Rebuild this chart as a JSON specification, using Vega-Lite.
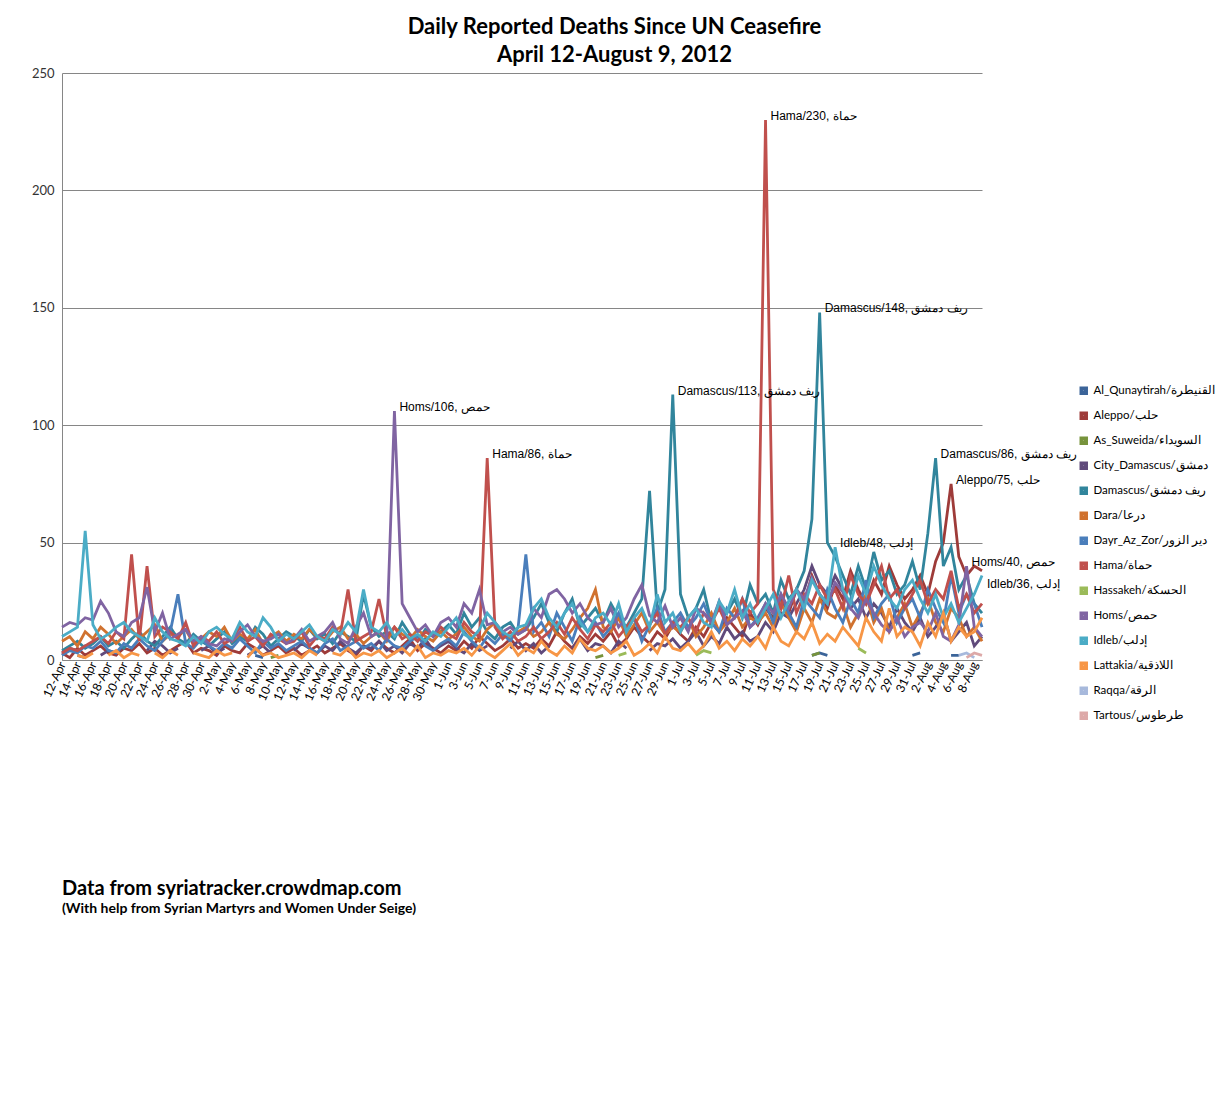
{
  "$schema": "https://vega.github.io/schema/vega-lite/v6.json",
  "width": 920,
  "height": 587,
  "autosize": {"type": "none"},
  "padding": {"left": 62, "top": 73, "right": 245, "bottom": 440},
  "background": "white",
  "config": {
    "view": {"stroke": null},
    "font": "Lato"
  },
  "title": {
    "text": "Data from syriatracker.crowdmap.com",
    "subtitle": "(With help from Syrian Martyrs and  Women Under Seige)",
    "orient": "bottom",
    "anchor": "start",
    "frame": "group",
    "offset": 153,
    "font": "Lato",
    "fontSize": 20,
    "fontWeight": "bold",
    "color": "#000000",
    "subtitleFont": "Lato",
    "subtitleFontSize": 14,
    "subtitleFontWeight": "bold",
    "subtitleColor": "#000000",
    "subtitlePadding": 3
  },
  "encoding": {
    "x": {
      "field": "d",
      "type": "temporal",
      "axis": {
        "title": null,
        "format": "%-d-%b",
        "labelAngle": -65,
        "labelFont": "Lato",
        "labelFontSize": 12,
        "labelColor": "#000000",
        "labelOverlap": false,
        "ticks": false,
        "grid": false,
        "domainColor": "#868686",
        "values": [
          {"year": 1900, "month": 4, "date": 12}, {"year": 1900, "month": 4, "date": 14}, {"year": 1900, "month": 4, "date": 16},
          {"year": 1900, "month": 4, "date": 18}, {"year": 1900, "month": 4, "date": 20}, {"year": 1900, "month": 4, "date": 22},
          {"year": 1900, "month": 4, "date": 24}, {"year": 1900, "month": 4, "date": 26}, {"year": 1900, "month": 4, "date": 28},
          {"year": 1900, "month": 4, "date": 30}, {"year": 1900, "month": 5, "date": 2}, {"year": 1900, "month": 5, "date": 4},
          {"year": 1900, "month": 5, "date": 6}, {"year": 1900, "month": 5, "date": 8}, {"year": 1900, "month": 5, "date": 10},
          {"year": 1900, "month": 5, "date": 12}, {"year": 1900, "month": 5, "date": 14}, {"year": 1900, "month": 5, "date": 16},
          {"year": 1900, "month": 5, "date": 18}, {"year": 1900, "month": 5, "date": 20}, {"year": 1900, "month": 5, "date": 22},
          {"year": 1900, "month": 5, "date": 24}, {"year": 1900, "month": 5, "date": 26}, {"year": 1900, "month": 5, "date": 28},
          {"year": 1900, "month": 5, "date": 30}, {"year": 1900, "month": 6, "date": 1}, {"year": 1900, "month": 6, "date": 3},
          {"year": 1900, "month": 6, "date": 5}, {"year": 1900, "month": 6, "date": 7}, {"year": 1900, "month": 6, "date": 9},
          {"year": 1900, "month": 6, "date": 11}, {"year": 1900, "month": 6, "date": 13}, {"year": 1900, "month": 6, "date": 15},
          {"year": 1900, "month": 6, "date": 17}, {"year": 1900, "month": 6, "date": 19}, {"year": 1900, "month": 6, "date": 21},
          {"year": 1900, "month": 6, "date": 23}, {"year": 1900, "month": 6, "date": 25}, {"year": 1900, "month": 6, "date": 27},
          {"year": 1900, "month": 6, "date": 29}, {"year": 1900, "month": 7, "date": 1}, {"year": 1900, "month": 7, "date": 3},
          {"year": 1900, "month": 7, "date": 5}, {"year": 1900, "month": 7, "date": 7}, {"year": 1900, "month": 7, "date": 9},
          {"year": 1900, "month": 7, "date": 11}, {"year": 1900, "month": 7, "date": 13}, {"year": 1900, "month": 7, "date": 15},
          {"year": 1900, "month": 7, "date": 17}, {"year": 1900, "month": 7, "date": 19}, {"year": 1900, "month": 7, "date": 21},
          {"year": 1900, "month": 7, "date": 23}, {"year": 1900, "month": 7, "date": 25}, {"year": 1900, "month": 7, "date": 27},
          {"year": 1900, "month": 7, "date": 29}, {"year": 1900, "month": 7, "date": 31}, {"year": 1900, "month": 8, "date": 2},
          {"year": 1900, "month": 8, "date": 4}, {"year": 1900, "month": 8, "date": 6}, {"year": 1900, "month": 8, "date": 8}
        ]
      }
    },
    "y": {
      "field": "v",
      "type": "quantitative",
      "scale": {"domain": [0, 250], "nice": false},
      "axis": {
        "values": [0, 50, 100, 150, 200, 250],
        "ticks": false,
        "grid": true,
        "gridColor": "#868686",
        "domainColor": "#868686",
        "labelFont": "Lato",
        "labelFontSize": 13,
        "labelColor": "#333333",
        "labelPadding": 8,
        "title": ["Daily Reported Deaths Since UN Ceasefire", "April 12-August 9, 2012"],
        "titleAngle": 0,
        "titleX": 552,
        "titleY": -57,
        "titleAlign": "center",
        "titleBaseline": "top",
        "titleFont": "Lato",
        "titleFontSize": 22,
        "titleFontWeight": "bold",
        "titleColor": "#000000",
        "titleLineHeight": 28
      }
    }
  },
  "layer": [
    {
      "data": {
        "format": {"parse": {"d": "date:'%m-%d'"}},
        "values": [
          {"d":"04-14","r":"AQ","v":2},{"d":"04-15","r":"AQ","v":1},{"d":"04-16","r":"AQ","v":null},{"d":"05-07","r":"AQ","v":2},{"d":"05-08","r":"AQ","v":1},{"d":"05-09","r":"AQ","v":null},
          {"d":"07-18","r":"AQ","v":2},{"d":"07-19","r":"AQ","v":3},{"d":"07-20","r":"AQ","v":2},{"d":"07-21","r":"AQ","v":null},{"d":"07-31","r":"AQ","v":2},{"d":"08-01","r":"AQ","v":3},
          {"d":"08-02","r":"AQ","v":null},{"d":"08-05","r":"AQ","v":2},{"d":"08-06","r":"AQ","v":2},

          {"d":"04-12","r":"AL","v":3},{"d":"04-13","r":"AL","v":1},{"d":"04-14","r":"AL","v":5},{"d":"04-15","r":"AL","v":2},{"d":"04-16","r":"AL","v":4},{"d":"04-17","r":"AL","v":6},{"d":"04-18","r":"AL","v":3},{"d":"04-19","r":"AL","v":2},{"d":"04-20","r":"AL","v":5},{"d":"04-21","r":"AL","v":4},
          {"d":"04-22","r":"AL","v":7},{"d":"04-23","r":"AL","v":3},{"d":"04-24","r":"AL","v":5},{"d":"04-25","r":"AL","v":2},{"d":"04-26","r":"AL","v":4},{"d":"04-27","r":"AL","v":6},{"d":"04-28","r":"AL","v":8},{"d":"04-29","r":"AL","v":3},{"d":"04-30","r":"AL","v":5},{"d":"05-01","r":"AL","v":4},
          {"d":"05-02","r":"AL","v":2},{"d":"05-03","r":"AL","v":6},{"d":"05-04","r":"AL","v":4},{"d":"05-05","r":"AL","v":3},{"d":"05-06","r":"AL","v":7},{"d":"05-07","r":"AL","v":5},{"d":"05-08","r":"AL","v":2},{"d":"05-09","r":"AL","v":4},{"d":"05-10","r":"AL","v":6},{"d":"05-11","r":"AL","v":3},
          {"d":"05-12","r":"AL","v":5},{"d":"05-13","r":"AL","v":2},{"d":"05-14","r":"AL","v":4},{"d":"05-15","r":"AL","v":6},{"d":"05-16","r":"AL","v":3},{"d":"05-17","r":"AL","v":5},{"d":"05-18","r":"AL","v":7},{"d":"05-19","r":"AL","v":4},{"d":"05-20","r":"AL","v":2},{"d":"05-21","r":"AL","v":6},
          {"d":"05-22","r":"AL","v":4},{"d":"05-23","r":"AL","v":8},{"d":"05-24","r":"AL","v":5},{"d":"05-25","r":"AL","v":3},{"d":"05-26","r":"AL","v":6},{"d":"05-27","r":"AL","v":9},{"d":"05-28","r":"AL","v":4},{"d":"05-29","r":"AL","v":7},{"d":"05-30","r":"AL","v":5},{"d":"05-31","r":"AL","v":3},
          {"d":"06-01","r":"AL","v":6},{"d":"06-02","r":"AL","v":4},{"d":"06-03","r":"AL","v":8},{"d":"06-04","r":"AL","v":5},{"d":"06-05","r":"AL","v":10},{"d":"06-06","r":"AL","v":7},{"d":"06-07","r":"AL","v":4},{"d":"06-08","r":"AL","v":6},{"d":"06-09","r":"AL","v":9},{"d":"06-10","r":"AL","v":5},
          {"d":"06-11","r":"AL","v":7},{"d":"06-12","r":"AL","v":5},{"d":"06-13","r":"AL","v":9},{"d":"06-14","r":"AL","v":6},{"d":"06-15","r":"AL","v":12},{"d":"06-16","r":"AL","v":8},{"d":"06-17","r":"AL","v":5},{"d":"06-18","r":"AL","v":10},{"d":"06-19","r":"AL","v":7},{"d":"06-20","r":"AL","v":11},
          {"d":"06-21","r":"AL","v":8},{"d":"06-22","r":"AL","v":12},{"d":"06-23","r":"AL","v":6},{"d":"06-24","r":"AL","v":9},{"d":"06-25","r":"AL","v":14},{"d":"06-26","r":"AL","v":10},{"d":"06-27","r":"AL","v":7},{"d":"06-28","r":"AL","v":12},{"d":"06-29","r":"AL","v":9},{"d":"06-30","r":"AL","v":15},
          {"d":"07-01","r":"AL","v":11},{"d":"07-02","r":"AL","v":8},{"d":"07-03","r":"AL","v":14},{"d":"07-04","r":"AL","v":10},{"d":"07-05","r":"AL","v":16},{"d":"07-06","r":"AL","v":12},{"d":"07-07","r":"AL","v":18},{"d":"07-08","r":"AL","v":14},{"d":"07-09","r":"AL","v":10},{"d":"07-10","r":"AL","v":20},
          {"d":"07-11","r":"AL","v":15},{"d":"07-12","r":"AL","v":22},{"d":"07-13","r":"AL","v":18},{"d":"07-14","r":"AL","v":26},{"d":"07-15","r":"AL","v":20},{"d":"07-16","r":"AL","v":30},{"d":"07-17","r":"AL","v":24},{"d":"07-18","r":"AL","v":36},{"d":"07-19","r":"AL","v":28},{"d":"07-20","r":"AL","v":22},
          {"d":"07-21","r":"AL","v":32},{"d":"07-22","r":"AL","v":26},{"d":"07-23","r":"AL","v":38},{"d":"07-24","r":"AL","v":30},{"d":"07-25","r":"AL","v":24},{"d":"07-26","r":"AL","v":34},{"d":"07-27","r":"AL","v":28},{"d":"07-28","r":"AL","v":40},{"d":"07-29","r":"AL","v":32},{"d":"07-30","r":"AL","v":26},
          {"d":"07-31","r":"AL","v":30},{"d":"08-01","r":"AL","v":36},{"d":"08-02","r":"AL","v":28},{"d":"08-03","r":"AL","v":42},{"d":"08-04","r":"AL","v":50},{"d":"08-05","r":"AL","v":75},{"d":"08-06","r":"AL","v":44},{"d":"08-07","r":"AL","v":36},{"d":"08-08","r":"AL","v":40},{"d":"08-09","r":"AL","v":38},

          {"d":"05-09","r":"AS","v":1},{"d":"05-10","r":"AS","v":2},{"d":"05-11","r":"AS","v":null},{"d":"06-20","r":"AS","v":1},{"d":"06-21","r":"AS","v":2},{"d":"06-22","r":"AS","v":null},{"d":"07-18","r":"AS","v":2},{"d":"07-19","r":"AS","v":3},

          {"d":"04-12","r":"CD","v":3},{"d":"04-13","r":"CD","v":5},{"d":"04-14","r":"CD","v":4},{"d":"04-15","r":"CD","v":null},{"d":"04-17","r":"CD","v":2},{"d":"04-18","r":"CD","v":4},{"d":"04-19","r":"CD","v":3},{"d":"04-20","r":"CD","v":6},{"d":"04-21","r":"CD","v":null},
          {"d":"04-23","r":"CD","v":4},{"d":"04-24","r":"CD","v":8},{"d":"04-25","r":"CD","v":6},{"d":"04-26","r":"CD","v":3},{"d":"04-27","r":"CD","v":5},{"d":"04-28","r":"CD","v":null},{"d":"04-30","r":"CD","v":4},{"d":"05-01","r":"CD","v":6},
          {"d":"05-02","r":"CD","v":3},{"d":"05-03","r":"CD","v":5},{"d":"05-04","r":"CD","v":null},{"d":"05-06","r":"CD","v":2},{"d":"05-07","r":"CD","v":4},{"d":"05-08","r":"CD","v":6},{"d":"05-09","r":"CD","v":3},{"d":"05-10","r":"CD","v":null},
          {"d":"05-12","r":"CD","v":4},{"d":"05-13","r":"CD","v":7},{"d":"05-14","r":"CD","v":5},{"d":"05-15","r":"CD","v":3},{"d":"05-16","r":"CD","v":6},{"d":"05-17","r":"CD","v":4},{"d":"05-18","r":"CD","v":8},{"d":"05-19","r":"CD","v":5},{"d":"05-20","r":"CD","v":3},{"d":"05-21","r":"CD","v":6},
          {"d":"05-22","r":"CD","v":5},{"d":"05-23","r":"CD","v":8},{"d":"05-24","r":"CD","v":4},{"d":"05-25","r":"CD","v":6},{"d":"05-26","r":"CD","v":3},{"d":"05-27","r":"CD","v":7},{"d":"05-28","r":"CD","v":5},{"d":"05-29","r":"CD","v":9},{"d":"05-30","r":"CD","v":4},{"d":"05-31","r":"CD","v":6},
          {"d":"06-01","r":"CD","v":8},{"d":"06-02","r":"CD","v":5},{"d":"06-03","r":"CD","v":3},{"d":"06-04","r":"CD","v":7},{"d":"06-05","r":"CD","v":4},{"d":"06-06","r":"CD","v":6},{"d":"06-07","r":"CD","v":null},{"d":"06-09","r":"CD","v":5},{"d":"06-10","r":"CD","v":8},
          {"d":"06-11","r":"CD","v":4},{"d":"06-12","r":"CD","v":7},{"d":"06-13","r":"CD","v":3},{"d":"06-14","r":"CD","v":6},{"d":"06-15","r":"CD","v":null},{"d":"06-17","r":"CD","v":5},{"d":"06-18","r":"CD","v":9},{"d":"06-19","r":"CD","v":4},{"d":"06-20","r":"CD","v":7},
          {"d":"06-21","r":"CD","v":6},{"d":"06-22","r":"CD","v":3},{"d":"06-23","r":"CD","v":8},{"d":"06-24","r":"CD","v":5},{"d":"06-25","r":"CD","v":null},{"d":"06-27","r":"CD","v":4},{"d":"06-28","r":"CD","v":7},{"d":"06-29","r":"CD","v":6},{"d":"06-30","r":"CD","v":9},
          {"d":"07-01","r":"CD","v":5},{"d":"07-02","r":"CD","v":8},{"d":"07-03","r":"CD","v":12},{"d":"07-04","r":"CD","v":6},{"d":"07-05","r":"CD","v":10},{"d":"07-06","r":"CD","v":7},{"d":"07-07","r":"CD","v":14},{"d":"07-08","r":"CD","v":9},{"d":"07-09","r":"CD","v":12},{"d":"07-10","r":"CD","v":8},
          {"d":"07-11","r":"CD","v":10},{"d":"07-12","r":"CD","v":16},{"d":"07-13","r":"CD","v":12},{"d":"07-14","r":"CD","v":20},{"d":"07-15","r":"CD","v":18},{"d":"07-16","r":"CD","v":24},{"d":"07-17","r":"CD","v":30},{"d":"07-18","r":"CD","v":40},{"d":"07-19","r":"CD","v":32},{"d":"07-20","r":"CD","v":28},
          {"d":"07-21","r":"CD","v":36},{"d":"07-22","r":"CD","v":30},{"d":"07-23","r":"CD","v":22},{"d":"07-24","r":"CD","v":26},{"d":"07-25","r":"CD","v":18},{"d":"07-26","r":"CD","v":24},{"d":"07-27","r":"CD","v":20},{"d":"07-28","r":"CD","v":14},{"d":"07-29","r":"CD","v":22},{"d":"07-30","r":"CD","v":16},
          {"d":"07-31","r":"CD","v":12},{"d":"08-01","r":"CD","v":18},{"d":"08-02","r":"CD","v":10},{"d":"08-03","r":"CD","v":14},{"d":"08-04","r":"CD","v":20},{"d":"08-05","r":"CD","v":8},{"d":"08-06","r":"CD","v":12},{"d":"08-07","r":"CD","v":16},{"d":"08-08","r":"CD","v":6},{"d":"08-09","r":"CD","v":10},

          {"d":"04-12","r":"DA","v":4},{"d":"04-13","r":"DA","v":6},{"d":"04-14","r":"DA","v":8},{"d":"04-15","r":"DA","v":5},{"d":"04-16","r":"DA","v":7},{"d":"04-17","r":"DA","v":10},{"d":"04-18","r":"DA","v":6},{"d":"04-19","r":"DA","v":8},{"d":"04-20","r":"DA","v":5},{"d":"04-21","r":"DA","v":9},
          {"d":"04-22","r":"DA","v":12},{"d":"04-23","r":"DA","v":8},{"d":"04-24","r":"DA","v":6},{"d":"04-25","r":"DA","v":10},{"d":"04-26","r":"DA","v":14},{"d":"04-27","r":"DA","v":9},{"d":"04-28","r":"DA","v":7},{"d":"04-29","r":"DA","v":11},{"d":"04-30","r":"DA","v":8},{"d":"05-01","r":"DA","v":6},
          {"d":"05-02","r":"DA","v":9},{"d":"05-03","r":"DA","v":12},{"d":"05-04","r":"DA","v":7},{"d":"05-05","r":"DA","v":10},{"d":"05-06","r":"DA","v":8},{"d":"05-07","r":"DA","v":14},{"d":"05-08","r":"DA","v":11},{"d":"05-09","r":"DA","v":6},{"d":"05-10","r":"DA","v":9},{"d":"05-11","r":"DA","v":12},
          {"d":"05-12","r":"DA","v":10},{"d":"05-13","r":"DA","v":8},{"d":"05-14","r":"DA","v":13},{"d":"05-15","r":"DA","v":9},{"d":"05-16","r":"DA","v":11},{"d":"05-17","r":"DA","v":7},{"d":"05-18","r":"DA","v":12},{"d":"05-19","r":"DA","v":10},{"d":"05-20","r":"DA","v":8},{"d":"05-21","r":"DA","v":28},
          {"d":"05-22","r":"DA","v":14},{"d":"05-23","r":"DA","v":10},{"d":"05-24","r":"DA","v":12},{"d":"05-25","r":"DA","v":9},{"d":"05-26","r":"DA","v":16},{"d":"05-27","r":"DA","v":11},{"d":"05-28","r":"DA","v":8},{"d":"05-29","r":"DA","v":13},{"d":"05-30","r":"DA","v":10},{"d":"05-31","r":"DA","v":12},
          {"d":"06-01","r":"DA","v":15},{"d":"06-02","r":"DA","v":11},{"d":"06-03","r":"DA","v":20},{"d":"06-04","r":"DA","v":14},{"d":"06-05","r":"DA","v":18},{"d":"06-06","r":"DA","v":12},{"d":"06-07","r":"DA","v":9},{"d":"06-08","r":"DA","v":14},{"d":"06-09","r":"DA","v":16},{"d":"06-10","r":"DA","v":11},
          {"d":"06-11","r":"DA","v":13},{"d":"06-12","r":"DA","v":18},{"d":"06-13","r":"DA","v":24},{"d":"06-14","r":"DA","v":16},{"d":"06-15","r":"DA","v":12},{"d":"06-16","r":"DA","v":20},{"d":"06-17","r":"DA","v":26},{"d":"06-18","r":"DA","v":14},{"d":"06-19","r":"DA","v":18},{"d":"06-20","r":"DA","v":22},
          {"d":"06-21","r":"DA","v":16},{"d":"06-22","r":"DA","v":24},{"d":"06-23","r":"DA","v":18},{"d":"06-24","r":"DA","v":14},{"d":"06-25","r":"DA","v":20},{"d":"06-26","r":"DA","v":26},{"d":"06-27","r":"DA","v":72},{"d":"06-28","r":"DA","v":20},{"d":"06-29","r":"DA","v":30},{"d":"06-30","r":"DA","v":113},
          {"d":"07-01","r":"DA","v":28},{"d":"07-02","r":"DA","v":18},{"d":"07-03","r":"DA","v":22},{"d":"07-04","r":"DA","v":30},{"d":"07-05","r":"DA","v":16},{"d":"07-06","r":"DA","v":24},{"d":"07-07","r":"DA","v":20},{"d":"07-08","r":"DA","v":26},{"d":"07-09","r":"DA","v":18},{"d":"07-10","r":"DA","v":32},
          {"d":"07-11","r":"DA","v":24},{"d":"07-12","r":"DA","v":28},{"d":"07-13","r":"DA","v":20},{"d":"07-14","r":"DA","v":34},{"d":"07-15","r":"DA","v":26},{"d":"07-16","r":"DA","v":30},{"d":"07-17","r":"DA","v":38},{"d":"07-18","r":"DA","v":60},{"d":"07-19","r":"DA","v":148},{"d":"07-20","r":"DA","v":50},
          {"d":"07-21","r":"DA","v":44},{"d":"07-22","r":"DA","v":36},{"d":"07-23","r":"DA","v":28},{"d":"07-24","r":"DA","v":40},{"d":"07-25","r":"DA","v":30},{"d":"07-26","r":"DA","v":46},{"d":"07-27","r":"DA","v":34},{"d":"07-28","r":"DA","v":38},{"d":"07-29","r":"DA","v":28},{"d":"07-30","r":"DA","v":32},
          {"d":"07-31","r":"DA","v":42},{"d":"08-01","r":"DA","v":30},{"d":"08-02","r":"DA","v":54},{"d":"08-03","r":"DA","v":86},{"d":"08-04","r":"DA","v":40},{"d":"08-05","r":"DA","v":48},{"d":"08-06","r":"DA","v":30},{"d":"08-07","r":"DA","v":36},{"d":"08-08","r":"DA","v":24},{"d":"08-09","r":"DA","v":20},

          {"d":"04-12","r":"DR","v":8},{"d":"04-13","r":"DR","v":10},{"d":"04-14","r":"DR","v":6},{"d":"04-15","r":"DR","v":12},{"d":"04-16","r":"DR","v":9},{"d":"04-17","r":"DR","v":14},{"d":"04-18","r":"DR","v":11},{"d":"04-19","r":"DR","v":7},{"d":"04-20","r":"DR","v":10},{"d":"04-21","r":"DR","v":13},
          {"d":"04-22","r":"DR","v":9},{"d":"04-23","r":"DR","v":12},{"d":"04-24","r":"DR","v":15},{"d":"04-25","r":"DR","v":8},{"d":"04-26","r":"DR","v":11},{"d":"04-27","r":"DR","v":10},{"d":"04-28","r":"DR","v":13},{"d":"04-29","r":"DR","v":7},{"d":"04-30","r":"DR","v":9},{"d":"05-01","r":"DR","v":12},
          {"d":"05-02","r":"DR","v":10},{"d":"05-03","r":"DR","v":14},{"d":"05-04","r":"DR","v":8},{"d":"05-05","r":"DR","v":11},{"d":"05-06","r":"DR","v":9},{"d":"05-07","r":"DR","v":13},{"d":"05-08","r":"DR","v":7},{"d":"05-09","r":"DR","v":10},{"d":"05-10","r":"DR","v":12},{"d":"05-11","r":"DR","v":8},
          {"d":"05-12","r":"DR","v":11},{"d":"05-13","r":"DR","v":9},{"d":"05-14","r":"DR","v":13},{"d":"05-15","r":"DR","v":10},{"d":"05-16","r":"DR","v":8},{"d":"05-17","r":"DR","v":12},{"d":"05-18","r":"DR","v":14},{"d":"05-19","r":"DR","v":9},{"d":"05-20","r":"DR","v":11},{"d":"05-21","r":"DR","v":7},
          {"d":"05-22","r":"DR","v":10},{"d":"05-23","r":"DR","v":12},{"d":"05-24","r":"DR","v":8},{"d":"05-25","r":"DR","v":14},{"d":"05-26","r":"DR","v":11},{"d":"05-27","r":"DR","v":9},{"d":"05-28","r":"DR","v":13},{"d":"05-29","r":"DR","v":10},{"d":"05-30","r":"DR","v":8},{"d":"05-31","r":"DR","v":12},
          {"d":"06-01","r":"DR","v":9},{"d":"06-02","r":"DR","v":11},{"d":"06-03","r":"DR","v":14},{"d":"06-04","r":"DR","v":10},{"d":"06-05","r":"DR","v":8},{"d":"06-06","r":"DR","v":13},{"d":"06-07","r":"DR","v":16},{"d":"06-08","r":"DR","v":11},{"d":"06-09","r":"DR","v":9},{"d":"06-10","r":"DR","v":12},
          {"d":"06-11","r":"DR","v":14},{"d":"06-12","r":"DR","v":10},{"d":"06-13","r":"DR","v":12},{"d":"06-14","r":"DR","v":16},{"d":"06-15","r":"DR","v":11},{"d":"06-16","r":"DR","v":9},{"d":"06-17","r":"DR","v":13},{"d":"06-18","r":"DR","v":18},{"d":"06-19","r":"DR","v":22},{"d":"06-20","r":"DR","v":30},
          {"d":"06-21","r":"DR","v":14},{"d":"06-22","r":"DR","v":12},{"d":"06-23","r":"DR","v":18},{"d":"06-24","r":"DR","v":10},{"d":"06-25","r":"DR","v":15},{"d":"06-26","r":"DR","v":20},{"d":"06-27","r":"DR","v":12},{"d":"06-28","r":"DR","v":16},{"d":"06-29","r":"DR","v":11},{"d":"06-30","r":"DR","v":14},
          {"d":"07-01","r":"DR","v":12},{"d":"07-02","r":"DR","v":18},{"d":"07-03","r":"DR","v":10},{"d":"07-04","r":"DR","v":14},{"d":"07-05","r":"DR","v":20},{"d":"07-06","r":"DR","v":12},{"d":"07-07","r":"DR","v":16},{"d":"07-08","r":"DR","v":22},{"d":"07-09","r":"DR","v":14},{"d":"07-10","r":"DR","v":18},
          {"d":"07-11","r":"DR","v":16},{"d":"07-12","r":"DR","v":20},{"d":"07-13","r":"DR","v":14},{"d":"07-14","r":"DR","v":24},{"d":"07-15","r":"DR","v":18},{"d":"07-16","r":"DR","v":12},{"d":"07-17","r":"DR","v":22},{"d":"07-18","r":"DR","v":16},{"d":"07-19","r":"DR","v":26},{"d":"07-20","r":"DR","v":20},
          {"d":"07-21","r":"DR","v":18},{"d":"07-22","r":"DR","v":24},{"d":"07-23","r":"DR","v":14},{"d":"07-24","r":"DR","v":20},{"d":"07-25","r":"DR","v":28},{"d":"07-26","r":"DR","v":16},{"d":"07-27","r":"DR","v":22},{"d":"07-28","r":"DR","v":12},{"d":"07-29","r":"DR","v":18},{"d":"07-30","r":"DR","v":24},
          {"d":"07-31","r":"DR","v":14},{"d":"08-01","r":"DR","v":20},{"d":"08-02","r":"DR","v":26},{"d":"08-03","r":"DR","v":16},{"d":"08-04","r":"DR","v":12},{"d":"08-05","r":"DR","v":22},{"d":"08-06","r":"DR","v":18},{"d":"08-07","r":"DR","v":10},{"d":"08-08","r":"DR","v":14},{"d":"08-09","r":"DR","v":8},

          {"d":"04-12","r":"DZ","v":2},{"d":"04-13","r":"DZ","v":4},{"d":"04-14","r":"DZ","v":3},{"d":"04-15","r":"DZ","v":6},{"d":"04-16","r":"DZ","v":5},{"d":"04-17","r":"DZ","v":8},{"d":"04-18","r":"DZ","v":4},{"d":"04-19","r":"DZ","v":3},{"d":"04-20","r":"DZ","v":7},{"d":"04-21","r":"DZ","v":5},
          {"d":"04-22","r":"DZ","v":9},{"d":"04-23","r":"DZ","v":6},{"d":"04-24","r":"DZ","v":4},{"d":"04-25","r":"DZ","v":8},{"d":"04-26","r":"DZ","v":12},{"d":"04-27","r":"DZ","v":28},{"d":"04-28","r":"DZ","v":7},{"d":"04-29","r":"DZ","v":5},{"d":"04-30","r":"DZ","v":9},{"d":"05-01","r":"DZ","v":6},
          {"d":"05-02","r":"DZ","v":4},{"d":"05-03","r":"DZ","v":7},{"d":"05-04","r":"DZ","v":5},{"d":"05-05","r":"DZ","v":9},{"d":"05-06","r":"DZ","v":6},{"d":"05-07","r":"DZ","v":3},{"d":"05-08","r":"DZ","v":8},{"d":"05-09","r":"DZ","v":5},{"d":"05-10","r":"DZ","v":7},{"d":"05-11","r":"DZ","v":4},
          {"d":"05-12","r":"DZ","v":6},{"d":"05-13","r":"DZ","v":8},{"d":"05-14","r":"DZ","v":5},{"d":"05-15","r":"DZ","v":3},{"d":"05-16","r":"DZ","v":7},{"d":"05-17","r":"DZ","v":9},{"d":"05-18","r":"DZ","v":4},{"d":"05-19","r":"DZ","v":6},{"d":"05-20","r":"DZ","v":8},{"d":"05-21","r":"DZ","v":5},
          {"d":"05-22","r":"DZ","v":7},{"d":"05-23","r":"DZ","v":4},{"d":"05-24","r":"DZ","v":9},{"d":"05-25","r":"DZ","v":6},{"d":"05-26","r":"DZ","v":5},{"d":"05-27","r":"DZ","v":8},{"d":"05-28","r":"DZ","v":10},{"d":"05-29","r":"DZ","v":6},{"d":"05-30","r":"DZ","v":4},{"d":"05-31","r":"DZ","v":7},
          {"d":"06-01","r":"DZ","v":9},{"d":"06-02","r":"DZ","v":6},{"d":"06-03","r":"DZ","v":12},{"d":"06-04","r":"DZ","v":8},{"d":"06-05","r":"DZ","v":5},{"d":"06-06","r":"DZ","v":10},{"d":"06-07","r":"DZ","v":7},{"d":"06-08","r":"DZ","v":11},{"d":"06-09","r":"DZ","v":8},{"d":"06-10","r":"DZ","v":14},
          {"d":"06-11","r":"DZ","v":45},{"d":"06-12","r":"DZ","v":12},{"d":"06-13","r":"DZ","v":16},{"d":"06-14","r":"DZ","v":10},{"d":"06-15","r":"DZ","v":20},{"d":"06-16","r":"DZ","v":14},{"d":"06-17","r":"DZ","v":8},{"d":"06-18","r":"DZ","v":18},{"d":"06-19","r":"DZ","v":12},{"d":"06-20","r":"DZ","v":16},
          {"d":"06-21","r":"DZ","v":10},{"d":"06-22","r":"DZ","v":14},{"d":"06-23","r":"DZ","v":20},{"d":"06-24","r":"DZ","v":12},{"d":"06-25","r":"DZ","v":18},{"d":"06-26","r":"DZ","v":8},{"d":"06-27","r":"DZ","v":15},{"d":"06-28","r":"DZ","v":22},{"d":"06-29","r":"DZ","v":12},{"d":"06-30","r":"DZ","v":16},
          {"d":"07-01","r":"DZ","v":20},{"d":"07-02","r":"DZ","v":14},{"d":"07-03","r":"DZ","v":18},{"d":"07-04","r":"DZ","v":24},{"d":"07-05","r":"DZ","v":16},{"d":"07-06","r":"DZ","v":12},{"d":"07-07","r":"DZ","v":22},{"d":"07-08","r":"DZ","v":18},{"d":"07-09","r":"DZ","v":26},{"d":"07-10","r":"DZ","v":14},
          {"d":"07-11","r":"DZ","v":18},{"d":"07-12","r":"DZ","v":24},{"d":"07-13","r":"DZ","v":16},{"d":"07-14","r":"DZ","v":28},{"d":"07-15","r":"DZ","v":20},{"d":"07-16","r":"DZ","v":14},{"d":"07-17","r":"DZ","v":26},{"d":"07-18","r":"DZ","v":22},{"d":"07-19","r":"DZ","v":18},{"d":"07-20","r":"DZ","v":30},
          {"d":"07-21","r":"DZ","v":22},{"d":"07-22","r":"DZ","v":16},{"d":"07-23","r":"DZ","v":26},{"d":"07-24","r":"DZ","v":20},{"d":"07-25","r":"DZ","v":34},{"d":"07-26","r":"DZ","v":18},{"d":"07-27","r":"DZ","v":24},{"d":"07-28","r":"DZ","v":28},{"d":"07-29","r":"DZ","v":16},{"d":"07-30","r":"DZ","v":22},
          {"d":"07-31","r":"DZ","v":26},{"d":"08-01","r":"DZ","v":18},{"d":"08-02","r":"DZ","v":30},{"d":"08-03","r":"DZ","v":22},{"d":"08-04","r":"DZ","v":16},{"d":"08-05","r":"DZ","v":36},{"d":"08-06","r":"DZ","v":20},{"d":"08-07","r":"DZ","v":28},{"d":"08-08","r":"DZ","v":24},{"d":"08-09","r":"DZ","v":14},

          {"d":"04-12","r":"HA","v":3},{"d":"04-13","r":"HA","v":5},{"d":"04-14","r":"HA","v":4},{"d":"04-15","r":"HA","v":6},{"d":"04-16","r":"HA","v":8},{"d":"04-17","r":"HA","v":10},{"d":"04-18","r":"HA","v":7},{"d":"04-19","r":"HA","v":12},{"d":"04-20","r":"HA","v":9},{"d":"04-21","r":"HA","v":45},
          {"d":"04-22","r":"HA","v":8},{"d":"04-23","r":"HA","v":40},{"d":"04-24","r":"HA","v":10},{"d":"04-25","r":"HA","v":14},{"d":"04-26","r":"HA","v":12},{"d":"04-27","r":"HA","v":9},{"d":"04-28","r":"HA","v":16},{"d":"04-29","r":"HA","v":6},{"d":"04-30","r":"HA","v":10},{"d":"05-01","r":"HA","v":8},
          {"d":"05-02","r":"HA","v":12},{"d":"05-03","r":"HA","v":7},{"d":"05-04","r":"HA","v":9},{"d":"05-05","r":"HA","v":14},{"d":"05-06","r":"HA","v":8},{"d":"05-07","r":"HA","v":10},{"d":"05-08","r":"HA","v":6},{"d":"05-09","r":"HA","v":11},{"d":"05-10","r":"HA","v":9},{"d":"05-11","r":"HA","v":7},
          {"d":"05-12","r":"HA","v":8},{"d":"05-13","r":"HA","v":12},{"d":"05-14","r":"HA","v":6},{"d":"05-15","r":"HA","v":10},{"d":"05-16","r":"HA","v":9},{"d":"05-17","r":"HA","v":14},{"d":"05-18","r":"HA","v":11},{"d":"05-19","r":"HA","v":30},{"d":"05-20","r":"HA","v":8},{"d":"05-21","r":"HA","v":10},
          {"d":"05-22","r":"HA","v":12},{"d":"05-23","r":"HA","v":26},{"d":"05-24","r":"HA","v":10},{"d":"05-25","r":"HA","v":14},{"d":"05-26","r":"HA","v":9},{"d":"05-27","r":"HA","v":11},{"d":"05-28","r":"HA","v":8},{"d":"05-29","r":"HA","v":12},{"d":"05-30","r":"HA","v":10},{"d":"05-31","r":"HA","v":14},
          {"d":"06-01","r":"HA","v":11},{"d":"06-02","r":"HA","v":9},{"d":"06-03","r":"HA","v":16},{"d":"06-04","r":"HA","v":12},{"d":"06-05","r":"HA","v":10},{"d":"06-06","r":"HA","v":86},{"d":"06-07","r":"HA","v":14},{"d":"06-08","r":"HA","v":9},{"d":"06-09","r":"HA","v":12},{"d":"06-10","r":"HA","v":8},
          {"d":"06-11","r":"HA","v":10},{"d":"06-12","r":"HA","v":14},{"d":"06-13","r":"HA","v":9},{"d":"06-14","r":"HA","v":12},{"d":"06-15","r":"HA","v":16},{"d":"06-16","r":"HA","v":11},{"d":"06-17","r":"HA","v":18},{"d":"06-18","r":"HA","v":13},{"d":"06-19","r":"HA","v":9},{"d":"06-20","r":"HA","v":15},
          {"d":"06-21","r":"HA","v":12},{"d":"06-22","r":"HA","v":16},{"d":"06-23","r":"HA","v":10},{"d":"06-24","r":"HA","v":14},{"d":"06-25","r":"HA","v":18},{"d":"06-26","r":"HA","v":12},{"d":"06-27","r":"HA","v":15},{"d":"06-28","r":"HA","v":20},{"d":"06-29","r":"HA","v":11},{"d":"06-30","r":"HA","v":16},
          {"d":"07-01","r":"HA","v":14},{"d":"07-02","r":"HA","v":18},{"d":"07-03","r":"HA","v":12},{"d":"07-04","r":"HA","v":20},{"d":"07-05","r":"HA","v":16},{"d":"07-06","r":"HA","v":22},{"d":"07-07","r":"HA","v":15},{"d":"07-08","r":"HA","v":18},{"d":"07-09","r":"HA","v":26},{"d":"07-10","r":"HA","v":20},
          {"d":"07-11","r":"HA","v":24},{"d":"07-12","r":"HA","v":230},{"d":"07-13","r":"HA","v":30},{"d":"07-14","r":"HA","v":22},{"d":"07-15","r":"HA","v":36},{"d":"07-16","r":"HA","v":20},{"d":"07-17","r":"HA","v":28},{"d":"07-18","r":"HA","v":24},{"d":"07-19","r":"HA","v":32},{"d":"07-20","r":"HA","v":26},
          {"d":"07-21","r":"HA","v":30},{"d":"07-22","r":"HA","v":22},{"d":"07-23","r":"HA","v":36},{"d":"07-24","r":"HA","v":28},{"d":"07-25","r":"HA","v":24},{"d":"07-26","r":"HA","v":32},{"d":"07-27","r":"HA","v":40},{"d":"07-28","r":"HA","v":26},{"d":"07-29","r":"HA","v":30},{"d":"07-30","r":"HA","v":22},
          {"d":"07-31","r":"HA","v":28},{"d":"08-01","r":"HA","v":34},{"d":"08-02","r":"HA","v":24},{"d":"08-03","r":"HA","v":30},{"d":"08-04","r":"HA","v":26},{"d":"08-05","r":"HA","v":38},{"d":"08-06","r":"HA","v":22},{"d":"08-07","r":"HA","v":28},{"d":"08-08","r":"HA","v":20},{"d":"08-09","r":"HA","v":24},

          {"d":"06-23","r":"HS","v":2},{"d":"06-24","r":"HS","v":3},{"d":"06-25","r":"HS","v":null},{"d":"07-03","r":"HS","v":2},{"d":"07-04","r":"HS","v":4},{"d":"07-05","r":"HS","v":3},{"d":"07-06","r":"HS","v":null},{"d":"07-24","r":"HS","v":5},{"d":"07-25","r":"HS","v":3},

          {"d":"04-12","r":"HO","v":14},{"d":"04-13","r":"HO","v":16},{"d":"04-14","r":"HO","v":15},{"d":"04-15","r":"HO","v":18},{"d":"04-16","r":"HO","v":17},{"d":"04-17","r":"HO","v":25},{"d":"04-18","r":"HO","v":20},{"d":"04-19","r":"HO","v":12},{"d":"04-20","r":"HO","v":10},{"d":"04-21","r":"HO","v":16},
          {"d":"04-22","r":"HO","v":18},{"d":"04-23","r":"HO","v":31},{"d":"04-24","r":"HO","v":12},{"d":"04-25","r":"HO","v":20},{"d":"04-26","r":"HO","v":9},{"d":"04-27","r":"HO","v":11},{"d":"04-28","r":"HO","v":13},{"d":"04-29","r":"HO","v":8},{"d":"04-30","r":"HO","v":10},{"d":"05-01","r":"HO","v":7},
          {"d":"05-02","r":"HO","v":6},{"d":"05-03","r":"HO","v":9},{"d":"05-04","r":"HO","v":8},{"d":"05-05","r":"HO","v":12},{"d":"05-06","r":"HO","v":15},{"d":"05-07","r":"HO","v":10},{"d":"05-08","r":"HO","v":8},{"d":"05-09","r":"HO","v":9},{"d":"05-10","r":"HO","v":11},{"d":"05-11","r":"HO","v":7},
          {"d":"05-12","r":"HO","v":9},{"d":"05-13","r":"HO","v":13},{"d":"05-14","r":"HO","v":8},{"d":"05-15","r":"HO","v":10},{"d":"05-16","r":"HO","v":12},{"d":"05-17","r":"HO","v":16},{"d":"05-18","r":"HO","v":9},{"d":"05-19","r":"HO","v":7},{"d":"05-20","r":"HO","v":14},{"d":"05-21","r":"HO","v":20},
          {"d":"05-22","r":"HO","v":10},{"d":"05-23","r":"HO","v":12},{"d":"05-24","r":"HO","v":9},{"d":"05-25","r":"HO","v":106},{"d":"05-26","r":"HO","v":24},{"d":"05-27","r":"HO","v":18},{"d":"05-28","r":"HO","v":12},{"d":"05-29","r":"HO","v":15},{"d":"05-30","r":"HO","v":10},{"d":"05-31","r":"HO","v":16},
          {"d":"06-01","r":"HO","v":18},{"d":"06-02","r":"HO","v":14},{"d":"06-03","r":"HO","v":24},{"d":"06-04","r":"HO","v":20},{"d":"06-05","r":"HO","v":30},{"d":"06-06","r":"HO","v":15},{"d":"06-07","r":"HO","v":16},{"d":"06-08","r":"HO","v":12},{"d":"06-09","r":"HO","v":14},{"d":"06-10","r":"HO","v":11},
          {"d":"06-11","r":"HO","v":13},{"d":"06-12","r":"HO","v":22},{"d":"06-13","r":"HO","v":18},{"d":"06-14","r":"HO","v":28},{"d":"06-15","r":"HO","v":30},{"d":"06-16","r":"HO","v":26},{"d":"06-17","r":"HO","v":20},{"d":"06-18","r":"HO","v":24},{"d":"06-19","r":"HO","v":18},{"d":"06-20","r":"HO","v":15},
          {"d":"06-21","r":"HO","v":16},{"d":"06-22","r":"HO","v":22},{"d":"06-23","r":"HO","v":14},{"d":"06-24","r":"HO","v":18},{"d":"06-25","r":"HO","v":26},{"d":"06-26","r":"HO","v":32},{"d":"06-27","r":"HO","v":19},{"d":"06-28","r":"HO","v":16},{"d":"06-29","r":"HO","v":23},{"d":"06-30","r":"HO","v":14},
          {"d":"07-01","r":"HO","v":18},{"d":"07-02","r":"HO","v":12},{"d":"07-03","r":"HO","v":22},{"d":"07-04","r":"HO","v":20},{"d":"07-05","r":"HO","v":16},{"d":"07-06","r":"HO","v":25},{"d":"07-07","r":"HO","v":15},{"d":"07-08","r":"HO","v":18},{"d":"07-09","r":"HO","v":21},{"d":"07-10","r":"HO","v":14},
          {"d":"07-11","r":"HO","v":17},{"d":"07-12","r":"HO","v":24},{"d":"07-13","r":"HO","v":20},{"d":"07-14","r":"HO","v":28},{"d":"07-15","r":"HO","v":22},{"d":"07-16","r":"HO","v":30},{"d":"07-17","r":"HO","v":26},{"d":"07-18","r":"HO","v":35},{"d":"07-19","r":"HO","v":28},{"d":"07-20","r":"HO","v":24},
          {"d":"07-21","r":"HO","v":33},{"d":"07-22","r":"HO","v":29},{"d":"07-23","r":"HO","v":22},{"d":"07-24","r":"HO","v":18},{"d":"07-25","r":"HO","v":26},{"d":"07-26","r":"HO","v":20},{"d":"07-27","r":"HO","v":15},{"d":"07-28","r":"HO","v":12},{"d":"07-29","r":"HO","v":18},{"d":"07-30","r":"HO","v":10},
          {"d":"07-31","r":"HO","v":14},{"d":"08-01","r":"HO","v":16},{"d":"08-02","r":"HO","v":12},{"d":"08-03","r":"HO","v":20},{"d":"08-04","r":"HO","v":10},{"d":"08-05","r":"HO","v":8},{"d":"08-06","r":"HO","v":15},{"d":"08-07","r":"HO","v":40},{"d":"08-08","r":"HO","v":14},{"d":"08-09","r":"HO","v":10},

          {"d":"04-12","r":"ID","v":10},{"d":"04-13","r":"ID","v":12},{"d":"04-14","r":"ID","v":14},{"d":"04-15","r":"ID","v":55},{"d":"04-16","r":"ID","v":15},{"d":"04-17","r":"ID","v":9},{"d":"04-18","r":"ID","v":11},{"d":"04-19","r":"ID","v":14},{"d":"04-20","r":"ID","v":16},{"d":"04-21","r":"ID","v":12},
          {"d":"04-22","r":"ID","v":10},{"d":"04-23","r":"ID","v":8},{"d":"04-24","r":"ID","v":18},{"d":"04-25","r":"ID","v":12},{"d":"04-26","r":"ID","v":9},{"d":"04-27","r":"ID","v":8},{"d":"04-28","r":"ID","v":6},{"d":"04-29","r":"ID","v":10},{"d":"04-30","r":"ID","v":7},{"d":"05-01","r":"ID","v":12},
          {"d":"05-02","r":"ID","v":14},{"d":"05-03","r":"ID","v":11},{"d":"05-04","r":"ID","v":9},{"d":"05-05","r":"ID","v":16},{"d":"05-06","r":"ID","v":12},{"d":"05-07","r":"ID","v":10},{"d":"05-08","r":"ID","v":18},{"d":"05-09","r":"ID","v":14},{"d":"05-10","r":"ID","v":8},{"d":"05-11","r":"ID","v":11},
          {"d":"05-12","r":"ID","v":9},{"d":"05-13","r":"ID","v":12},{"d":"05-14","r":"ID","v":15},{"d":"05-15","r":"ID","v":10},{"d":"05-16","r":"ID","v":8},{"d":"05-17","r":"ID","v":13},{"d":"05-18","r":"ID","v":11},{"d":"05-19","r":"ID","v":16},{"d":"05-20","r":"ID","v":12},{"d":"05-21","r":"ID","v":30},
          {"d":"05-22","r":"ID","v":14},{"d":"05-23","r":"ID","v":12},{"d":"05-24","r":"ID","v":16},{"d":"05-25","r":"ID","v":10},{"d":"05-26","r":"ID","v":13},{"d":"05-27","r":"ID","v":9},{"d":"05-28","r":"ID","v":11},{"d":"05-29","r":"ID","v":8},{"d":"05-30","r":"ID","v":12},{"d":"05-31","r":"ID","v":10},
          {"d":"06-01","r":"ID","v":14},{"d":"06-02","r":"ID","v":18},{"d":"06-03","r":"ID","v":11},{"d":"06-04","r":"ID","v":9},{"d":"06-05","r":"ID","v":13},{"d":"06-06","r":"ID","v":20},{"d":"06-07","r":"ID","v":16},{"d":"06-08","r":"ID","v":12},{"d":"06-09","r":"ID","v":10},{"d":"06-10","r":"ID","v":14},
          {"d":"06-11","r":"ID","v":15},{"d":"06-12","r":"ID","v":22},{"d":"06-13","r":"ID","v":26},{"d":"06-14","r":"ID","v":18},{"d":"06-15","r":"ID","v":14},{"d":"06-16","r":"ID","v":20},{"d":"06-17","r":"ID","v":24},{"d":"06-18","r":"ID","v":16},{"d":"06-19","r":"ID","v":12},{"d":"06-20","r":"ID","v":18},
          {"d":"06-21","r":"ID","v":20},{"d":"06-22","r":"ID","v":15},{"d":"06-23","r":"ID","v":24},{"d":"06-24","r":"ID","v":12},{"d":"06-25","r":"ID","v":18},{"d":"06-26","r":"ID","v":22},{"d":"06-27","r":"ID","v":14},{"d":"06-28","r":"ID","v":28},{"d":"06-29","r":"ID","v":16},{"d":"06-30","r":"ID","v":20},
          {"d":"07-01","r":"ID","v":12},{"d":"07-02","r":"ID","v":18},{"d":"07-03","r":"ID","v":22},{"d":"07-04","r":"ID","v":16},{"d":"07-05","r":"ID","v":14},{"d":"07-06","r":"ID","v":25},{"d":"07-07","r":"ID","v":20},{"d":"07-08","r":"ID","v":30},{"d":"07-09","r":"ID","v":18},{"d":"07-10","r":"ID","v":24},
          {"d":"07-11","r":"ID","v":16},{"d":"07-12","r":"ID","v":22},{"d":"07-13","r":"ID","v":28},{"d":"07-14","r":"ID","v":18},{"d":"07-15","r":"ID","v":25},{"d":"07-16","r":"ID","v":30},{"d":"07-17","r":"ID","v":22},{"d":"07-18","r":"ID","v":34},{"d":"07-19","r":"ID","v":28},{"d":"07-20","r":"ID","v":24},
          {"d":"07-21","r":"ID","v":48},{"d":"07-22","r":"ID","v":30},{"d":"07-23","r":"ID","v":24},{"d":"07-24","r":"ID","v":36},{"d":"07-25","r":"ID","v":28},{"d":"07-26","r":"ID","v":40},{"d":"07-27","r":"ID","v":32},{"d":"07-28","r":"ID","v":26},{"d":"07-29","r":"ID","v":22},{"d":"07-30","r":"ID","v":30},
          {"d":"07-31","r":"ID","v":34},{"d":"08-01","r":"ID","v":26},{"d":"08-02","r":"ID","v":20},{"d":"08-03","r":"ID","v":28},{"d":"08-04","r":"ID","v":18},{"d":"08-05","r":"ID","v":24},{"d":"08-06","r":"ID","v":16},{"d":"08-07","r":"ID","v":22},{"d":"08-08","r":"ID","v":28},{"d":"08-09","r":"ID","v":36},

          {"d":"04-14","r":"LA","v":2},{"d":"04-15","r":"LA","v":1},{"d":"04-16","r":"LA","v":3},{"d":"04-17","r":"LA","v":null},{"d":"04-18","r":"LA","v":2},{"d":"04-19","r":"LA","v":4},{"d":"04-20","r":"LA","v":1},{"d":"04-21","r":"LA","v":3},
          {"d":"04-22","r":"LA","v":2},{"d":"04-23","r":"LA","v":null},{"d":"04-24","r":"LA","v":3},{"d":"04-25","r":"LA","v":1},{"d":"04-26","r":"LA","v":4},{"d":"04-27","r":"LA","v":2},{"d":"04-28","r":"LA","v":null},{"d":"04-29","r":"LA","v":3},{"d":"04-30","r":"LA","v":2},{"d":"05-01","r":"LA","v":1},
          {"d":"05-02","r":"LA","v":4},{"d":"05-03","r":"LA","v":2},{"d":"05-04","r":"LA","v":3},{"d":"05-05","r":"LA","v":null},{"d":"05-06","r":"LA","v":1},{"d":"05-07","r":"LA","v":5},{"d":"05-08","r":"LA","v":2},{"d":"05-09","r":"LA","v":3},{"d":"05-10","r":"LA","v":1},{"d":"05-11","r":"LA","v":2},
          {"d":"05-12","r":"LA","v":3},{"d":"05-13","r":"LA","v":1},{"d":"05-14","r":"LA","v":4},{"d":"05-15","r":"LA","v":2},{"d":"05-16","r":"LA","v":null},{"d":"05-17","r":"LA","v":3},{"d":"05-18","r":"LA","v":2},{"d":"05-19","r":"LA","v":5},{"d":"05-20","r":"LA","v":1},{"d":"05-21","r":"LA","v":3},
          {"d":"05-22","r":"LA","v":2},{"d":"05-23","r":"LA","v":4},{"d":"05-24","r":"LA","v":1},{"d":"05-25","r":"LA","v":3},{"d":"05-26","r":"LA","v":5},{"d":"05-27","r":"LA","v":2},{"d":"05-28","r":"LA","v":6},{"d":"05-29","r":"LA","v":1},{"d":"05-30","r":"LA","v":3},{"d":"05-31","r":"LA","v":2},
          {"d":"06-01","r":"LA","v":4},{"d":"06-02","r":"LA","v":3},{"d":"06-03","r":"LA","v":5},{"d":"06-04","r":"LA","v":2},{"d":"06-05","r":"LA","v":6},{"d":"06-06","r":"LA","v":3},{"d":"06-07","r":"LA","v":1},{"d":"06-08","r":"LA","v":4},{"d":"06-09","r":"LA","v":7},{"d":"06-10","r":"LA","v":2},
          {"d":"06-11","r":"LA","v":5},{"d":"06-12","r":"LA","v":3},{"d":"06-13","r":"LA","v":8},{"d":"06-14","r":"LA","v":4},{"d":"06-15","r":"LA","v":2},{"d":"06-16","r":"LA","v":6},{"d":"06-17","r":"LA","v":3},{"d":"06-18","r":"LA","v":9},{"d":"06-19","r":"LA","v":5},{"d":"06-20","r":"LA","v":4},
          {"d":"06-21","r":"LA","v":6},{"d":"06-22","r":"LA","v":3},{"d":"06-23","r":"LA","v":5},{"d":"06-24","r":"LA","v":8},{"d":"06-25","r":"LA","v":2},{"d":"06-26","r":"LA","v":4},{"d":"06-27","r":"LA","v":7},{"d":"06-28","r":"LA","v":3},{"d":"06-29","r":"LA","v":10},{"d":"06-30","r":"LA","v":5},
          {"d":"07-01","r":"LA","v":4},{"d":"07-02","r":"LA","v":7},{"d":"07-03","r":"LA","v":3},{"d":"07-04","r":"LA","v":6},{"d":"07-05","r":"LA","v":12},{"d":"07-06","r":"LA","v":5},{"d":"07-07","r":"LA","v":8},{"d":"07-08","r":"LA","v":4},{"d":"07-09","r":"LA","v":9},{"d":"07-10","r":"LA","v":6},
          {"d":"07-11","r":"LA","v":10},{"d":"07-12","r":"LA","v":5},{"d":"07-13","r":"LA","v":14},{"d":"07-14","r":"LA","v":8},{"d":"07-15","r":"LA","v":6},{"d":"07-16","r":"LA","v":12},{"d":"07-17","r":"LA","v":9},{"d":"07-18","r":"LA","v":16},{"d":"07-19","r":"LA","v":7},{"d":"07-20","r":"LA","v":11},
          {"d":"07-21","r":"LA","v":8},{"d":"07-22","r":"LA","v":14},{"d":"07-23","r":"LA","v":10},{"d":"07-24","r":"LA","v":6},{"d":"07-25","r":"LA","v":18},{"d":"07-26","r":"LA","v":12},{"d":"07-27","r":"LA","v":8},{"d":"07-28","r":"LA","v":22},{"d":"07-29","r":"LA","v":10},{"d":"07-30","r":"LA","v":14},
          {"d":"07-31","r":"LA","v":12},{"d":"08-01","r":"LA","v":6},{"d":"08-02","r":"LA","v":16},{"d":"08-03","r":"LA","v":10},{"d":"08-04","r":"LA","v":20},{"d":"08-05","r":"LA","v":8},{"d":"08-06","r":"LA","v":14},{"d":"08-07","r":"LA","v":10},{"d":"08-08","r":"LA","v":12},{"d":"08-09","r":"LA","v":18},

          {"d":"08-06","r":"RQ","v":2},{"d":"08-07","r":"RQ","v":3},{"d":"08-08","r":"RQ","v":1},
          {"d":"08-07","r":"TA","v":1},{"d":"08-08","r":"TA","v":3},{"d":"08-09","r":"TA","v":2}
        ]
      },
      "transform": [
        {
          "lookup": "r",
          "from": {
            "data": {
              "values": [
                {"r": "AQ", "n": "Al_Qunaytirah/القنيطرة"},
                {"r": "AL", "n": "Aleppo/حلب"},
                {"r": "AS", "n": "As_Suweida/السويداء"},
                {"r": "CD", "n": "City_Damascus/دمشق"},
                {"r": "DA", "n": "Damascus/ريف دمشق"},
                {"r": "DR", "n": "Dara/درعا"},
                {"r": "DZ", "n": "Dayr_Az_Zor/دير الزور"},
                {"r": "HA", "n": "Hama/حماة"},
                {"r": "HS", "n": "Hassakeh/الحسكة"},
                {"r": "HO", "n": "Homs/حمص"},
                {"r": "ID", "n": "Idleb/إدلب"},
                {"r": "LA", "n": "Lattakia/اللاذقية"},
                {"r": "RQ", "n": "Raqqa/الرقة"},
                {"r": "TA", "n": "Tartous/طرطوس"}
              ]
            },
            "key": "r",
            "fields": ["n"]
          }
        }
      ],
      "mark": {"type": "line", "strokeWidth": 2.8, "invalid": "break-paths-show-domains"},
      "encoding": {
        "color": {
          "field": "n",
          "type": "nominal",
          "scale": {
            "domain": [
              "Al_Qunaytirah/القنيطرة", "Aleppo/حلب", "As_Suweida/السويداء", "City_Damascus/دمشق",
              "Damascus/ريف دمشق", "Dara/درعا", "Dayr_Az_Zor/دير الزور", "Hama/حماة",
              "Hassakeh/الحسكة", "Homs/حمص", "Idleb/إدلب", "Lattakia/اللاذقية",
              "Raqqa/الرقة", "Tartous/طرطوس"
            ],
            "range": [
              "#3B6499", "#9E3B39", "#77933C", "#604A7B", "#31859C", "#D0722F", "#4A7EBB",
              "#C0504D", "#9BBB59", "#8064A2", "#4BACC6", "#F79646", "#A7B9DC", "#DDA9A8"
            ]
          },
          "legend": {
            "title": null,
            "orient": "none",
            "legendX": 1016,
            "legendY": 312,
            "symbolType": "square",
            "symbolSize": 20,
            "symbolStrokeWidth": 4,
            "labelFont": "Lato",
            "labelFontSize": 11.5,
            "labelColor": "#000000",
            "labelLimit": 200,
            "rowPadding": 4
          }
        }
      }
    },
    {
      "data": {
        "format": {"parse": {"d": "date:'%m-%d'"}},
        "values": [
          {"d": "05-25", "v": 106, "t": "Homs/106, حمص"},
          {"d": "06-06", "v": 86, "t": "Hama/86, حماة"},
          {"d": "06-30", "v": 113, "t": "Damascus/113, ريف دمشق"},
          {"d": "07-12", "v": 230, "t": "Hama/230, حماة"},
          {"d": "07-19", "v": 148, "t": "Damascus/148, ريف دمشق"},
          {"d": "08-03", "v": 86, "t": "Damascus/86, ريف دمشق"},
          {"d": "08-05", "v": 75, "t": "Aleppo/75, حلب"},
          {"d": "07-21", "v": 48, "t": "Idleb/48, إدلب"},
          {"d": "08-07", "v": 40, "t": "Homs/40, حمص"}
        ]
      },
      "mark": {
        "type": "text",
        "align": "left",
        "baseline": "middle",
        "dx": 5,
        "dy": -4,
        "font": "Liberation Sans",
        "fontSize": 12,
        "color": "#000000"
      },
      "encoding": {
        "text": {"field": "t"}
      }
    },
    {
      "data": {
        "format": {"parse": {"d": "date:'%m-%d'"}},
        "values": [
          {"d": "08-09", "v": 36, "t": "Idleb/36, إدلب"}
        ]
      },
      "mark": {
        "type": "text",
        "align": "left",
        "baseline": "top",
        "dx": 5,
        "dy": 4,
        "font": "Liberation Sans",
        "fontSize": 12,
        "color": "#000000"
      },
      "encoding": {
        "text": {"field": "t"}
      }
    }
  ]
}
